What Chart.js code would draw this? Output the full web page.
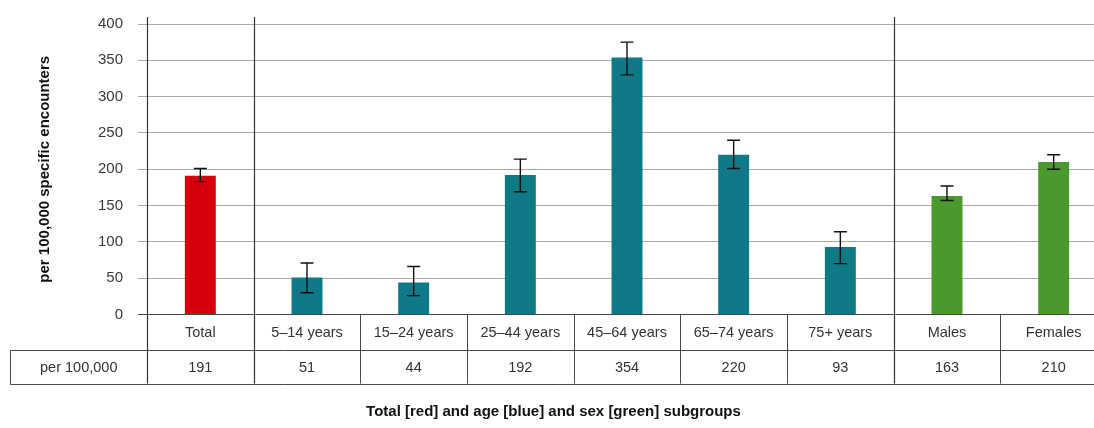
<!DOCTYPE html>
<html>
<head>
<meta charset="utf-8">
<script src="https://cdn.jsdelivr.net/npm/chart.js@4"></script>
<style>
  html, body { margin: 0; padding: 0; background: #fff; overflow: hidden; }
  #wrap { width: 1094px; height: 428px; overflow: hidden; position: relative; }
  canvas { display: block; }
</style>
</head>
<body>
<div id="wrap"><canvas id="chart" width="1125" height="428"></canvas></div>
<script>
// Rates per 100,000 specific encounters, with 95% confidence limits
const categories = ['Total', '5–14 years', '15–24 years', '25–44 years', '45–64 years', '65–74 years', '75+ years', 'Males', 'Females'];
const rates   = [191, 51, 44, 192, 354, 220, 93, 163, 210];
const ciLow   = [183, 30, 26, 169, 330, 201, 70, 157, 200];
const ciHigh  = [201, 71, 66, 214, 375, 240, 114, 177, 220];
const groups  = ['total', 'age', 'age', 'age', 'age', 'age', 'age', 'sex', 'sex'];
const yTicks  = [0, 50, 100, 150, 200, 250, 300, 350, 400];

const groupColours = { total: '#d6000c', age: '#0f7987', sex: '#4b982d' };
const FONT = '"Liberation Sans", Arial, sans-serif';

// Error whiskers drawn from the confidence limits
const errorBars = {
  id: 'errorBars',
  afterDatasetsDraw(chart) {
    const { ctx } = chart;
    const y = chart.scales.y;
    const meta = chart.getDatasetMeta(0);
    ctx.save();
    ctx.strokeStyle = '#111';
    ctx.lineWidth = 1.4;
    meta.data.forEach((bar, i) => {
      const x = bar.x;
      const yt = y.getPixelForValue(ciHigh[i]);
      const yb = y.getPixelForValue(ciLow[i]);
      const cap = 6.5;
      ctx.beginPath();
      ctx.moveTo(x, yt); ctx.lineTo(x, yb);
      ctx.moveTo(x - cap, yt); ctx.lineTo(x + cap, yt);
      ctx.moveTo(x - cap, yb); ctx.lineTo(x + cap, yb);
      ctx.stroke();
    });
    ctx.restore();
  }
};

// Group separators, axis line and the data table under the axis
const dataTable = {
  id: 'dataTable',
  afterDraw(chart) {
    const { ctx, chartArea } = chart;
    const x = chart.scales.x;
    const n = categories.length;
    const bounds = [chartArea.left];
    for (let i = 0; i < n - 1; i++) {
      bounds.push((x.getPixelForValue(i) + x.getPixelForValue(i + 1)) / 2);
    }
    bounds.push(chartArea.right);

    const axisY = chartArea.bottom;
    const rowTop = axisY + 35;
    const rowBottom = rowTop + 34;
    const top = chartArea.top - 7;
    const labelLeft = 10.5;

    ctx.save();
    // vertical lines through the table rows
    ctx.strokeStyle = '#4a4a4a';
    ctx.lineWidth = 1;
    ctx.beginPath();
    for (let i = 1; i < bounds.length - 1; i++) {
      const bx = Math.round(bounds[i]) + 0.5;
      ctx.moveTo(bx, axisY); ctx.lineTo(bx, rowBottom);
    }
    // horizontal table lines
    ctx.moveTo(labelLeft, Math.round(rowTop) + 0.5); ctx.lineTo(chartArea.right, Math.round(rowTop) + 0.5);
    ctx.moveTo(labelLeft, Math.round(rowBottom) + 0.5); ctx.lineTo(chartArea.right, Math.round(rowBottom) + 0.5);
    ctx.moveTo(labelLeft, Math.round(rowTop) + 0.5); ctx.lineTo(labelLeft, Math.round(rowBottom) + 0.5);
    ctx.stroke();

    // axis line and group separators, full height
    ctx.strokeStyle = '#333';
    ctx.lineWidth = 1.2;
    ctx.beginPath();
    const seps = [chartArea.left, bounds[1], bounds[7]];
    seps.forEach(sx => {
      const bx = Math.round(sx) + 0.5;
      ctx.moveTo(bx, top); ctx.lineTo(bx, rowBottom);
    });
    ctx.stroke();

    // table values
    ctx.fillStyle = '#333';
    ctx.font = '14.5px ' + FONT;
    ctx.textAlign = 'center';
    ctx.textBaseline = 'middle';
    const midY = (rowTop + rowBottom) / 2 + 1;
    ctx.fillText('per 100,000', (labelLeft + chartArea.left) / 2, midY);
    rates.forEach((v, i) => {
      ctx.fillText(String(v), x.getPixelForValue(i), midY);
    });
    ctx.restore();
  }
};

new Chart(document.getElementById('chart'), {
  type: 'bar',
  data: {
    labels: categories,
    datasets: [{
      data: rates,
      backgroundColor: groups.map(g => groupColours[g]),
      borderWidth: 0,
      categoryPercentage: 1,
      barPercentage: 0.29
    }]
  },
  options: {
    responsive: false,
    animation: false,
    devicePixelRatio: 1,
    layout: { padding: { left: 0, right: 18, top: 21, bottom: 0 } },
    plugins: {
      legend: { display: false },
      tooltip: { enabled: false },
      title: {
        display: true,
        position: 'bottom',
        text: 'Total [red] and age [blue] and sex [green] subgroups',
        color: '#111',
        font: { family: FONT, size: 15, weight: 'bold' },
        padding: { top: 0, bottom: 7 }
      }
    },
    scales: {
      x: {
        grid: { display: false, drawTicks: false },
        border: { display: false },
        ticks: {
          color: '#333',
          font: { family: FONT, size: 14.5 },
          padding: 10,
          maxRotation: 0,
          autoSkip: false
        },
        afterFit(scale) { scale.height = 88.5; }
      },
      y: {
        min: 0,
        max: 400,
        afterBuildTicks(scale) { scale.ticks = yTicks.map(v => ({ value: v })); },
        grid: {
          color: ctx => (ctx.tick && ctx.tick.value === 0 ? '#444' : '#a9a9a9'),
          lineWidth: 1,
          tickLength: 9,
          drawTicks: true
        },
        border: { display: false },
        ticks: {
          color: '#3a3a3a',
          font: { family: FONT, size: 15 },
          padding: 15
        },
        title: {
          display: true,
          text: 'per 100,000 specific encounters',
          color: '#111',
          font: { family: FONT, size: 15, weight: 'bold' },
          padding: { top: 36, bottom: 0 }
        },
        afterFit(scale) { scale.width = 147; }
      }
    }
  },
  plugins: [errorBars, dataTable]
});
</script>
</body>
</html>
